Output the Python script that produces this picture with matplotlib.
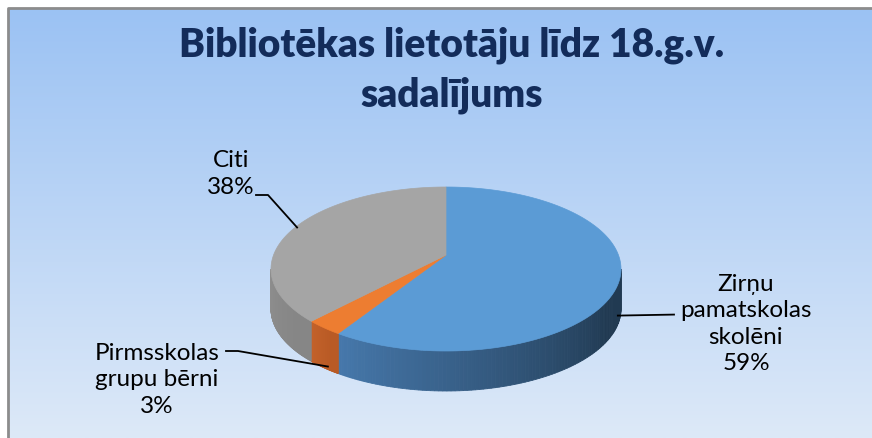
import matplotlib.pyplot as plt
import numpy as np
from matplotlib.patches import Polygon
from matplotlib.colors import to_rgb

plt.rcParams['font.family'] = ['Lato', 'DejaVu Sans']

# data
labels = ['Zirņu\npamatskolas\nskolēni', 'Pirmsskolas\ngrupu bērni', 'Citi']
shares = [59, 3, 38]
top_colors = ['#5B9BD5', '#ED7D31', '#A5A5A5']
side_colors = [('#4678ab', '#213a52'), ('#c4622a', '#b85a25'), ('#8e8e8e', '#868686')]
title = 'Bibliotēkas lietotāju līdz 18.g.v.\nsadalījums'

W, H = 872, 439
fig = plt.figure(figsize=(W / 100, H / 100), dpi=100)
ax = fig.add_axes([0, 0, 1, 1])
ax.set_xlim(0, W)
ax.set_ylim(H, 0)
ax.axis('off')

# background gradient + frame
grad = np.linspace(0, 1, 256).reshape(-1, 1)
c0 = np.array(to_rgb('#9bc2f3'))
c1 = np.array(to_rgb('#dde9f8'))
img = c0 + (c1 - c0) * grad[:, :, None]
ax.imshow(img, extent=[8, W, H, 9], aspect='auto', zorder=0)
ax.plot([8, 8, W], [H, 9, 9], color='#8c8c8c', lw=2, zorder=1)

# pie geometry (pixel space, y down), with a simple perspective tilt
cx, cy, rx, ry, depth = 446, 270, 175, 82, 40
tilt = 0.17
s = np.arcsin(tilt)


def proj(x, y):
    d = 1 + tilt * y
    xp = x * np.sqrt(1 - tilt ** 2) / d
    yp = (y + tilt) / d
    return cx + rx * xp, cy - ry * yp


def pt(a):
    return proj(np.cos(a), np.sin(a))


frac = np.array(shares) / sum(shares)
bounds = np.pi / 2 - 2 * np.pi * np.concatenate([[0], np.cumsum(frac)])
front = [(-np.pi + s, -s), (-3 * np.pi + s, -2 * np.pi - s)]

# side walls (front part only)
for i in range(len(shares)):
    a_hi, a_lo = bounds[i], bounds[i + 1]
    for f_lo, f_hi in front:
        lo, hi = max(a_lo, f_lo), min(a_hi, f_hi)
        if hi <= lo:
            continue
        n = 100
        aa = np.linspace(lo, hi, n + 1)
        ca, cb = np.array(to_rgb(side_colors[i][0])), np.array(to_rgb(side_colors[i][1]))
        for k in range(n):
            t = min(1.0, 1.25 * k / n)
            col = ca + (cb - ca) * t
            x1, y1 = pt(aa[k])
            x2, y2 = pt(aa[k + 1])
            ax.add_patch(Polygon([(x1, y1), (x2, y2), (x2, y2 + depth), (x1, y1 + depth)],
                                 closed=True, facecolor=col, edgecolor=col, lw=0.6, zorder=2))

# top faces
vx, vy = proj(0, 0)
for i in range(len(shares)):
    aa = np.linspace(bounds[i], bounds[i + 1], 200)
    xs, ys = pt(aa)
    verts = [(vx, vy)] + list(zip(xs, ys))
    ax.add_patch(Polygon(verts, closed=True, facecolor=top_colors[i],
                         edgecolor=top_colors[i], lw=0.5, zorder=3))

# labels with leader lines
mids = (bounds[:-1] + bounds[1:]) / 2
label_pos = [(746, 324), (157, 380), (231, 174)]
label_text = [f'{l}\n{v}%' for l, v in zip(labels, shares)]
for i in range(len(shares)):
    ax.text(label_pos[i][0], label_pos[i][1], label_text[i], ha='center', va='center',
            fontsize=17.5, linespacing=1.33, color='black', zorder=5)

mx, my = pt(mids[0])
ax.plot([mx - 2, 674], [my + 0.93 * depth, my + 0.93 * depth - 1], color='black', lw=1.3, zorder=4)
mx, my = pt(mids[1])
ax.plot([mx + 4, 238, 226], [my + 0.97 * depth, 352, 352], color='black', lw=1.3, zorder=4)
mx, my = pt(mids[2])
ax.plot([mx + 2, 268, 256], [my, 196, 196], color='black', lw=1.3, zorder=4)

ax.text(452, 70, title, ha='center', va='center', fontsize=28, fontweight='heavy',
        color='#132c5a', linespacing=1.4, zorder=5)

fig.savefig('out.png', dpi=100)
